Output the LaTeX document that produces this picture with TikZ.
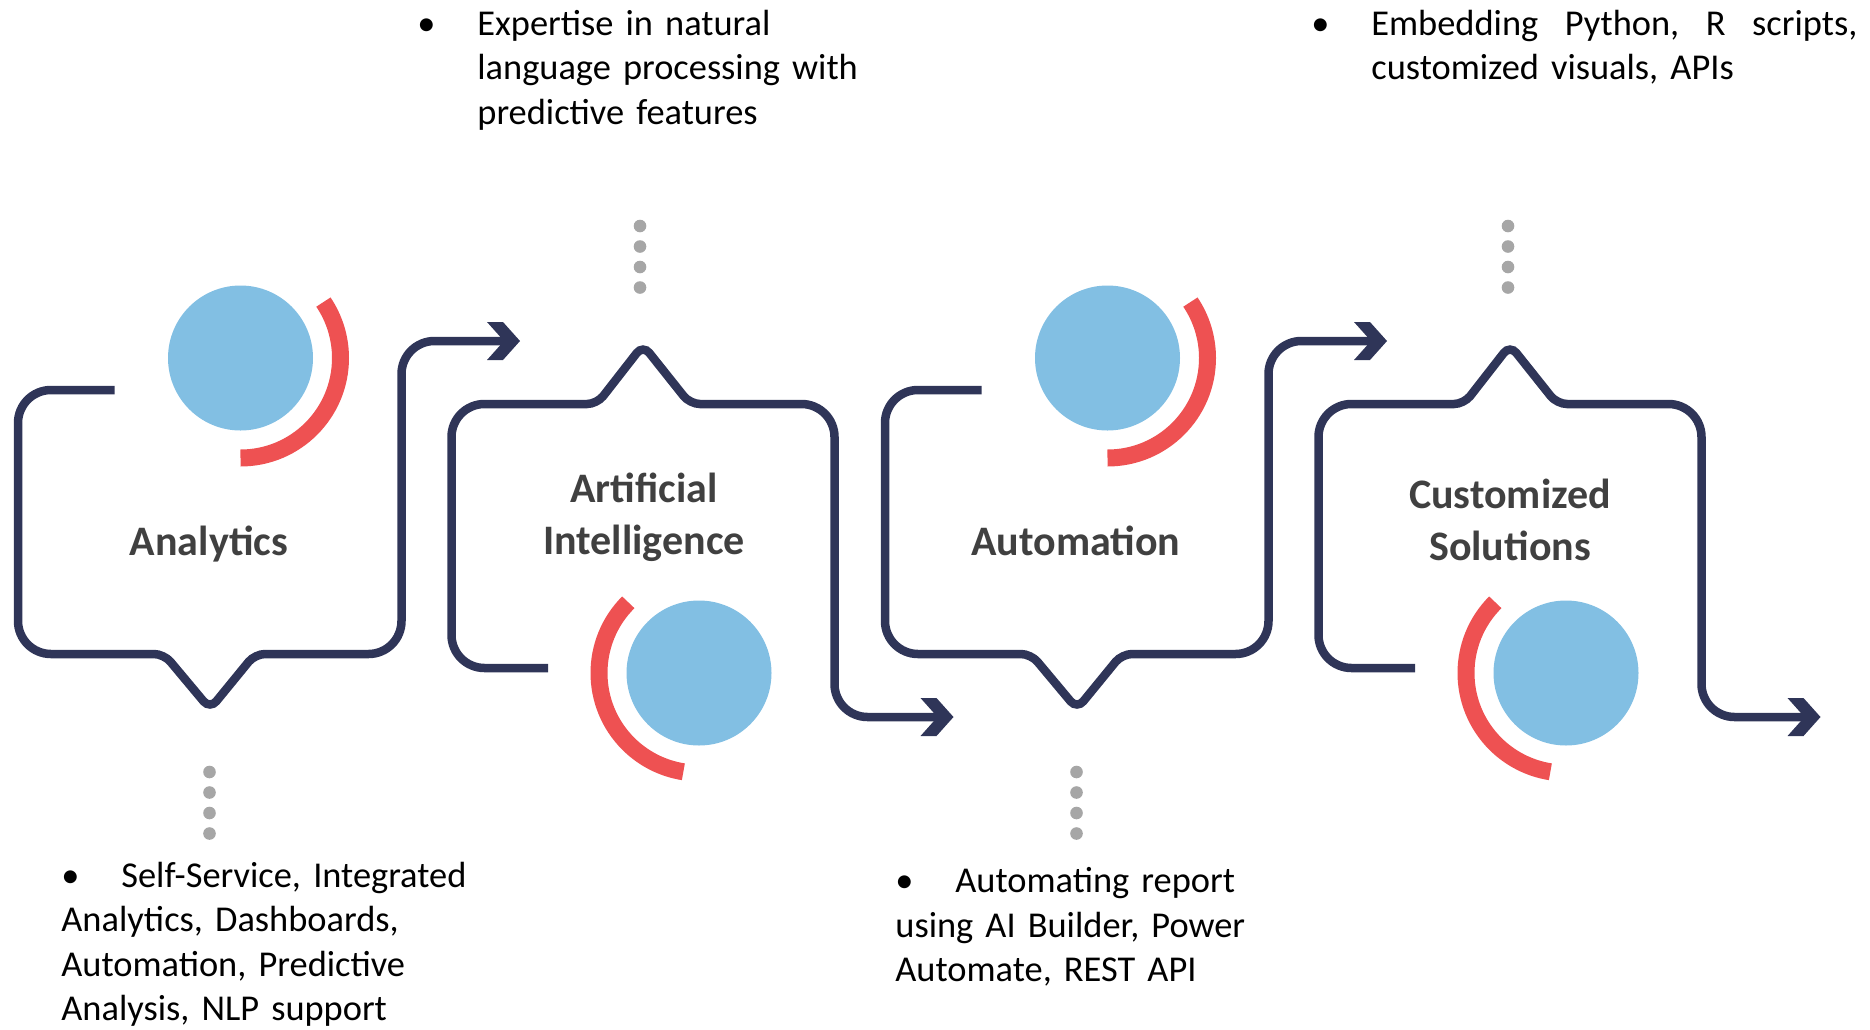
\documentclass[tikz,border=0pt]{standalone}
\usepackage{fontspec}
\setmainfont{Carlito}
\definecolor{navy}{HTML}{2F3558}
\definecolor{discblue}{HTML}{82BFE3}
\definecolor{arcred}{HTML}{EE5152}
\definecolor{dotgray}{HTML}{A6A6A6}
\definecolor{titlegray}{HTML}{404040}
\newcommand{\dotsize}{6.3}
\newcommand{\bulletgap}{30pt}

\begin{document}
\begin{tikzpicture}[x=0.5pt,y=0.5pt,
    boxline/.style={draw=navy,line width=4.25pt,rounded corners=16.5pt},
    chevron/.pic={\fill[navy] (-33,19) -- (-17,19) -- (0,0) -- (-17,-19) -- (-33,-19) -- (-16,0) -- cycle;},
    redarc/.style={draw=arcred,line width=8.5pt},
    bluedisc/.style={fill=discblue},
    graydot/.style={fill=dotgray},
    titletext/.style={font=\fontsize{21pt}{26pt}\selectfont\bfseries,text=titlegray,
        align=center,text width=200pt,inner sep=0pt,anchor=base},
    notetext/.style={font=\fontsize{18.2pt}{22.3pt}\selectfont,align=left,
        text width=300pt,inner sep=0pt,anchor=base west}]
\useasboundingbox (0,0) rectangle (1870,-1029);

% arrow ends
\coordinate (outA) at (520,-341);
\coordinate (outB) at (953.5,-717);
\coordinate (outC) at (1387,-341);
\coordinate (outD) at (1820.5,-717);

% outlines
\draw[boxline] (114.5,-390) -- (18,-390) -- (18,-654) -- (90,-654)
    [rounded corners=5pt] -- (164,-654) -- (210,-709) -- (255,-654) -- (330,-654)
    [rounded corners=16.5pt] -- (401.5,-654) -- (401.5,-341) -- ([xshift=-6pt]outA);
\draw[boxline] (548,-668) -- (451.5,-668) -- (451.5,-404) -- (520,-404)
    [rounded corners=5pt] -- (597,-404) -- (643,-345) -- (690,-404) -- (760,-404)
    [rounded corners=16.5pt] -- (834.5,-404) -- (834.5,-717) -- ([xshift=-6pt]outB);
\draw[boxline] (981.5,-390) -- (885,-390) -- (885,-654) -- (957,-654)
    [rounded corners=5pt] -- (1031,-654) -- (1077,-709) -- (1122,-654) -- (1197,-654)
    [rounded corners=16.5pt] -- (1268.5,-654) -- (1268.5,-341) -- ([xshift=-6pt]outC);
\draw[boxline] (1415,-668) -- (1318.5,-668) -- (1318.5,-404) -- (1387,-404)
    [rounded corners=5pt] -- (1464,-404) -- (1510,-345) -- (1557,-404) -- (1627,-404)
    [rounded corners=16.5pt] -- (1701.5,-404) -- (1701.5,-717) -- ([xshift=-6pt]outD);
\pic at (outA) {chevron};
\pic at (outB) {chevron};
\pic at (outC) {chevron};
\pic at (outD) {chevron};

% discs and arcs
\fill[bluedisc] (240.5,-358) circle[radius=72.5];
\draw[redarc] ([shift={(-90:100)}]240.5,-358) arc[start angle=-90,end angle=34,radius=100];
\fill[bluedisc] (699,-673) circle[radius=72.5];
\draw[redarc] ([shift={(135:100)}]699,-673) arc[start angle=135,end angle=261,radius=100];
\fill[bluedisc] (1107.5,-358) circle[radius=72.5];
\draw[redarc] ([shift={(-90:100)}]1107.5,-358) arc[start angle=-90,end angle=34,radius=100];
\fill[bluedisc] (1566,-673) circle[radius=72.5];
\draw[redarc] ([shift={(135:100)}]1566,-673) arc[start angle=135,end angle=261,radius=100];

% dotted leaders
\fill[graydot] (209.5,-772) circle[radius=\dotsize] (209.5,-792.5) circle[radius=\dotsize]
    (209.5,-813) circle[radius=\dotsize] (209.5,-833.5) circle[radius=\dotsize];
\fill[graydot] (640,-226) circle[radius=\dotsize] (640,-246.5) circle[radius=\dotsize]
    (640,-267) circle[radius=\dotsize] (640,-287.5) circle[radius=\dotsize];
\fill[graydot] (1076.5,-772) circle[radius=\dotsize] (1076.5,-792.5) circle[radius=\dotsize]
    (1076.5,-813) circle[radius=\dotsize] (1076.5,-833.5) circle[radius=\dotsize];
\fill[graydot] (1508,-226) circle[radius=\dotsize] (1508,-246.5) circle[radius=\dotsize]
    (1508,-267) circle[radius=\dotsize] (1508,-287.5) circle[radius=\dotsize];

% titles
\node[titletext] (analytics) at (209,-555) {Analytics};
\node[titletext] (ai) at (644,-502.7) {Artificial\\Intelligence};
\node[titletext] (automation) at (1076,-555) {Automation};
\node[titletext] (custom) at (1510,-508.3) {Customized\\Solutions};

% notes
\node[notetext] (analyticsnote) at (61,-887)
    {\makebox[\bulletgap][l]{\textbullet}Self-Service, Integrated\\Analytics, Dashboards,\\Automation, Predictive\\Analysis, NLP support};
\node[notetext] (ainote) at (417,-35)
    {\makebox[\bulletgap][l]{\textbullet}Expertise in natural\\\hspace*{\bulletgap}language processing with\\\hspace*{\bulletgap}predictive features};
\node[notetext] (automationnote) at (895,-892.7)
    {\makebox[\bulletgap][l]{\textbullet}Automating report\\using AI Builder, Power\\Automate, REST API};
\node[notetext] (customnote) at (1311,-35)
    {\makebox[\bulletgap][l]{\textbullet}\makebox[243pt][s]{Embedding\hfill Python,\hfill R\hfill scripts,}\\\hspace*{\bulletgap}customized visuals, APIs};
\end{tikzpicture}
\end{document}
